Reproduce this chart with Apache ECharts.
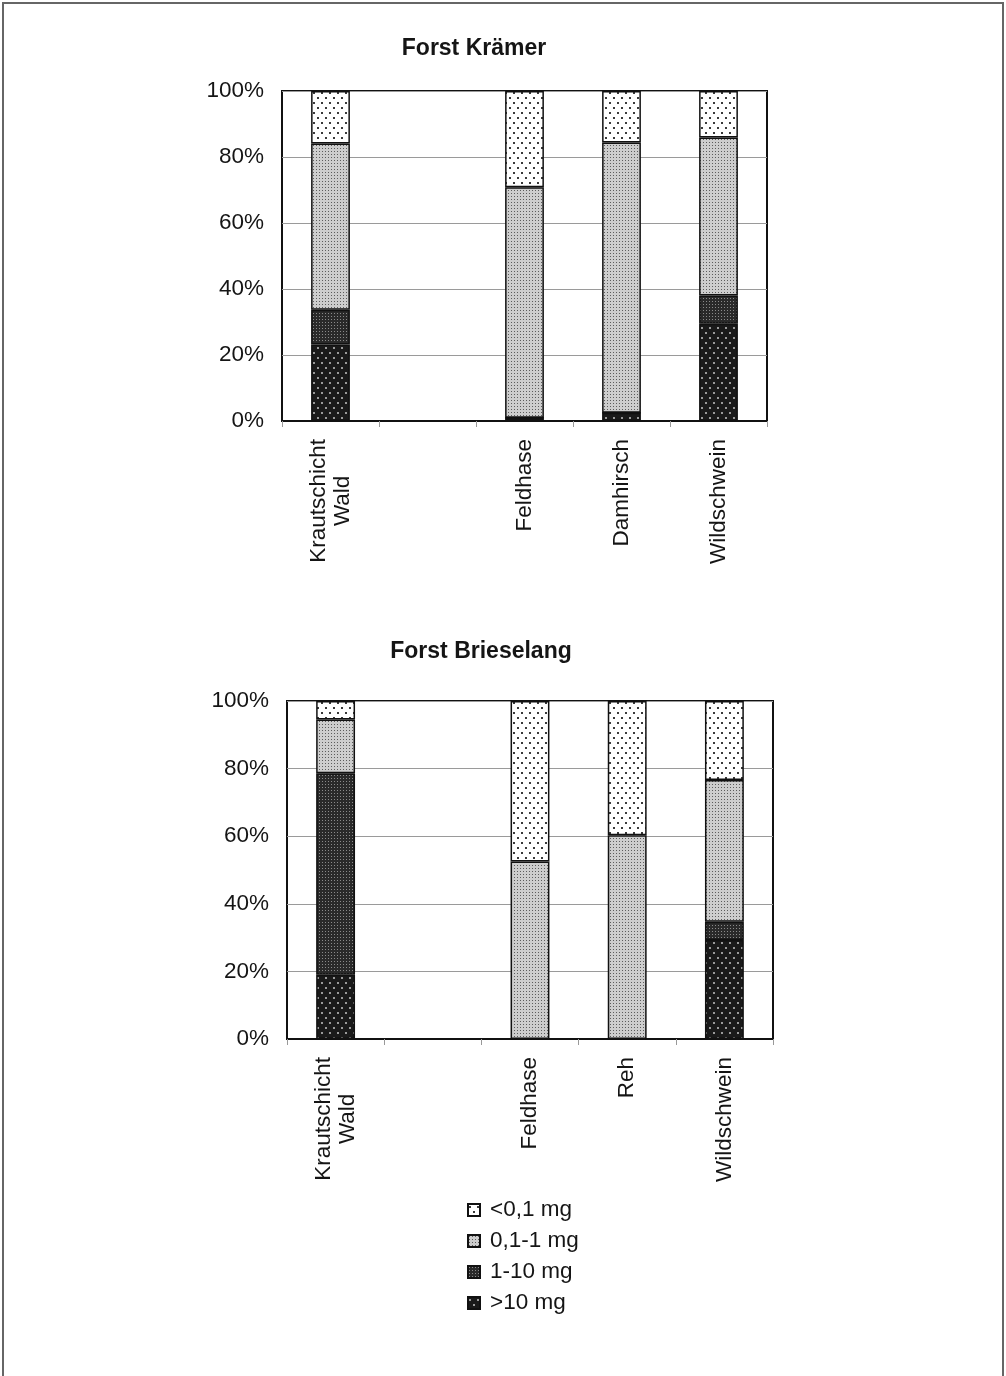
<!DOCTYPE html>
<html>
<head>
<meta charset="utf-8">
<script src="https://cdn.jsdelivr.net/npm/echarts@6/dist/echarts.min.js"></script>
<style>
html,body{margin:0;padding:0;background:#fff;}
#chart{width:1006px;height:1376px;}
</style>
</head>
<body>
<div id="chart"></div>
<script>
// ---- Data ----
const titleTop = 'Forst Krämer';
const titleBottom = 'Forst Brieselang';
const seriesNames = ['>10 mg', '1-10 mg', '0,1-1 mg', '<0,1 mg'];
const legendOrder = ['<0,1 mg', '0,1-1 mg', '1-10 mg', '>10 mg'];
const yTicks = [0, 20, 40, 60, 80, 100];

const catsTop = ['Krautschicht\nWald', '', 'Feldhase', 'Damhirsch', 'Wildschwein'];
const top_gt10   = [23.2, null, 1.0, 2.5, 29.5];
const top_1_10   = [10.5, null, 0, 0, 8.5];
const top_01_1   = [50.4, null, 69.8, 81.9, 47.9];
const top_lt01   = [15.9, null, 29.2, 15.6, 14.1];

const catsBottom = ['Krautschicht\nWald', '', 'Feldhase', 'Reh', 'Wildschwein'];
const bot_gt10   = [19.0, null, 0, 0, 29.3];
const bot_1_10   = [59.6, null, 0, 0, 5.4];
const bot_01_1   = [15.9, null, 52.5, 60.3, 41.9];
const bot_lt01   = [5.5, null, 47.5, 39.7, 23.4];

// ---- Patterns ----
function makePattern(w, h, bg, dotColor, dots, r) {
  const c = document.createElement('canvas');
  c.width = w; c.height = h;
  const ctx = c.getContext('2d');
  ctx.fillStyle = bg; ctx.fillRect(0, 0, w, h);
  ctx.fillStyle = dotColor;
  dots.forEach(d => { ctx.fillRect(d[0], d[1], r, r); });
  return { image: c, repeat: 'repeat' };
}
const patLt01 = makePattern(8, 10, '#ffffff', '#3a3a3a', [[1, 2], [5, 7]], 2);
const pat01_1 = makePattern(3, 3, '#cdcdcd', '#5c5c5c', [[1, 1]], 1);
const pat1_10 = makePattern(3, 3, '#2a2a2a', '#8a8a8a', [[1, 1]], 1);
const patGt10 = makePattern(8, 10, '#1a1a1a', '#9a9a9a', [[1, 2], [5, 7]], 2);
const patterns = { '>10 mg': patGt10, '1-10 mg': pat1_10, '0,1-1 mg': pat01_1, '<0,1 mg': patLt01 };

const FONT = 'Liberation Sans, Arial, sans-serif';
const TXT = '#151515';

function xAxisCfg(cats, gridIndex) {
  return {
    type: 'category', gridIndex: gridIndex, data: cats,
    boundaryGap: true,
    axisLine: { show: true, lineStyle: { color: '#111', width: 2 } },
    axisTick: { show: true, interval: 0, length: 6, lineStyle: { color: '#999', width: 1 } },
    axisLabel: {
      interval: 0, rotate: 90, margin: 18, color: TXT,
      fontFamily: FONT, fontSize: 22.5,
      formatter: function (v) {
        if (!v) return '';
        return v.split('\n').map(s => '{a|' + s + '}').join('\n');
      },
      rich: { a: { align: 'center', fontFamily: FONT, fontSize: 22.5, lineHeight: 24, color: TXT } }
    }
  };
}
function yAxisCfg(gridIndex) {
  return {
    type: 'value', gridIndex: gridIndex, min: 0, max: 100, interval: 20,
    axisLine: { show: false }, axisTick: { show: false },
    axisLabel: { formatter: '{value}%', margin: 18, color: TXT, fontFamily: FONT, fontSize: 22.5 },
    splitLine: { show: true, lineStyle: { color: '#9a9a9a', width: 1 } }
  };
}

function makeSeries(idx, arrs) {
  return seriesNames.map((name, i) => ({
    name: name, type: 'bar', stack: 'total' + idx,
    xAxisIndex: idx, yAxisIndex: idx,
    barWidth: '40%',
    data: arrs[i],
    itemStyle: { color: patterns[name], borderColor: '#111', borderWidth: 1.5 },
    emphasis: { disabled: true }
  }));
}

const chart = echarts.init(document.getElementById('chart'), null, { renderer: 'canvas' });
chart.setOption({
  animation: false,
  backgroundColor: '#ffffff',
  title: [
    { text: titleTop, left: 474, top: 37, textAlign: 'center', padding: 0,
      textStyle: { fontFamily: FONT, fontSize: 23, fontWeight: 'bold', color: TXT } },
    { text: titleBottom, left: 481, top: 640, textAlign: 'center', padding: 0,
      textStyle: { fontFamily: FONT, fontSize: 23, fontWeight: 'bold', color: TXT } }
  ],
  grid: [
    { left: 282, top: 91, width: 485, height: 330, show: true, borderColor: '#111', borderWidth: 2, backgroundColor: 'transparent' },
    { left: 287, top: 701, width: 486, height: 338, show: true, borderColor: '#111', borderWidth: 2, backgroundColor: 'transparent' }
  ],
  xAxis: [xAxisCfg(catsTop, 0), xAxisCfg(catsBottom, 1)],
  yAxis: [yAxisCfg(0), yAxisCfg(1)],
  legend: {
    orient: 'vertical', left: 467, top: 1198, padding: 0,
    data: legendOrder, itemWidth: 12, itemHeight: 12, itemGap: 7,
    icon: 'rect', selectedMode: false,
    textStyle: { fontFamily: FONT, fontSize: 22.5, lineHeight: 24, color: TXT, padding: [0, 0, 0, 5] }
  },
  graphic: [
    { type: 'rect', shape: { x: 3, y: 3, width: 1000, height: 1390 },
      style: { fill: 'none', stroke: '#666', lineWidth: 2 }, silent: true }
  ],
  series: [].concat(
    makeSeries(0, [top_gt10, top_1_10, top_01_1, top_lt01]),
    makeSeries(1, [bot_gt10, bot_1_10, bot_01_1, bot_lt01])
  )
});
</script>
</body>
</html>
